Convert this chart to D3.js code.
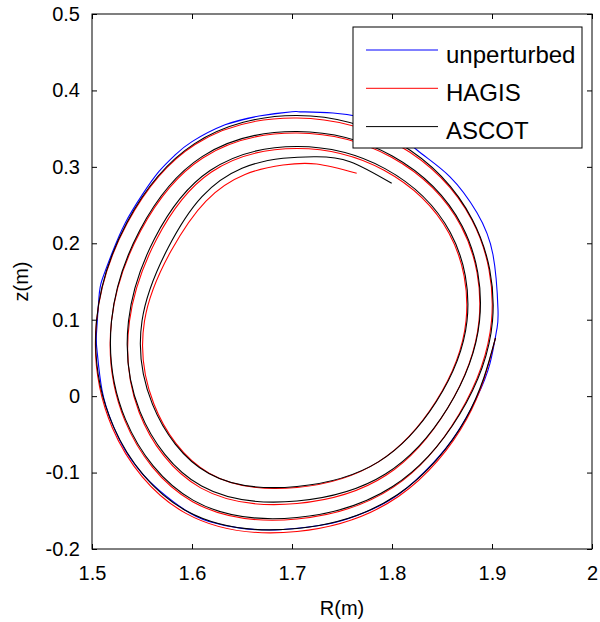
<!DOCTYPE html>
<html>
<head>
<meta charset="utf-8">
<script src="https://cdn.jsdelivr.net/npm/d3@7"></script>
<style>
  body { margin: 0; background: #fff; }
  text { font-family: "Liberation Sans", Arial, Helvetica, sans-serif; fill: #000; }
</style>
</head>
<body>
<svg id="chart" width="600" height="622"></svg>
<script>
// tick values
const xTicks = [1.5, 1.6, 1.7, 1.8, 1.9, 2]
const yTicks = [-0.2, -0.1, 0, 0.1, 0.2, 0.3, 0.4, 0.5]

// legend
const seriesNames = ['unperturbed', 'HAGIS', 'ASCOT']
const seriesColors = ['#0000ff', '#ff0000', '#000000']

// unperturbed orbit, closed, [R (m), z (m)], read clockwise from the top
const unperturbed = [
  [1.708, 0.372], [1.741, 0.3705], [1.788, 0.357], [1.825, 0.322], [1.858, 0.287],
  [1.885, 0.240], [1.901, 0.185], [1.906, 0.113], [1.9047, 0.0866], [1.898, 0.043],
  [1.885, -0.001], [1.865, -0.048], [1.841, -0.0875], [1.808, -0.127], [1.775, -0.151],
  [1.741, -0.166], [1.708, -0.1725], [1.683, -0.175], [1.650, -0.173], [1.617, -0.164],
  [1.593, -0.149], [1.567, -0.123], [1.550, -0.101], [1.533, -0.0705], [1.520, -0.035],
  [1.510, 0.008], [1.505, 0.060], [1.5045, 0.0826], [1.507, 0.130], [1.510, 0.152],
  [1.520, 0.187], [1.533, 0.226], [1.550, 0.263], [1.567, 0.294], [1.583, 0.3155],
  [1.600, 0.333], [1.633, 0.355], [1.667, 0.3665], [1.700, 0.3722]
]

// HAGIS orbit, spiralling inward (clockwise)
const hagis = [
  [1.9035, 0.0761], [1.8747, -0.0299], [1.8064, -0.1313], [1.705, -0.1771], [1.5939, -0.1534],
  [1.5203, -0.0413], [1.5045, 0.0983], [1.5353, 0.2265], [1.6031, 0.3293], [1.705, 0.3639],
  [1.8065, 0.3283], [1.8799, 0.2305],
  [1.8995, 0.0983], [1.8669, -0.0240], [1.8011, -0.1194], [1.705, -0.1607], [1.6006, -0.1381],
  [1.5328, -0.0317], [1.5195, 0.0983], [1.5487, 0.2165], [1.6108, 0.3117], [1.705, 0.3443],
  [1.7995, 0.3125], [1.8691, 0.2224],
  [1.887, 0.0983], [1.8557, -0.0155], [1.7941, -0.1036], [1.705, -0.1405], [1.6086, -0.1200],
  [1.5471, -0.0210], [1.5375, 0.0983], [1.5643, 0.2047], [1.6191, 0.2930], [1.705, 0.3240],
  [1.792, 0.2955], [1.857, 0.2132],
  [1.874, 0.0983], [1.844, -0.0067], [1.7864, -0.0860], [1.705, -0.1195], [1.6171, -0.1008],
  [1.5618, -0.0099], [1.5525, 0.0983], [1.579, 0.1899], [1.614, 0.2553], [1.653, 0.2900],
  [1.691, 0.3024], [1.7247, 0.3037], [1.7647, 0.2916]
]

// ASCOT orbit, spiralling inward (clockwise)
const ascot = [
  [1.9035, 0.0761], [1.8739, -0.0292], [1.8054, -0.1291], [1.705, -0.1732], [1.5951, -0.1507],
  [1.5216, -0.0402], [1.5045, 0.0983], [1.5348, 0.2269], [1.6026, 0.3304], [1.705, 0.3672],
  [1.8075, 0.3306], [1.8804, 0.2309],
  [1.9005, 0.0983], [1.8674, -0.0244], [1.8006, -0.1183], [1.705, -0.1588], [1.6014, -0.1364],
  [1.5337, -0.0311], [1.5195, 0.0983], [1.5478, 0.2171], [1.6101, 0.3134], [1.705, 0.3463],
  [1.8003, 0.3142], [1.870, 0.2230],
  [1.8875, 0.0983], [1.8557, -0.0155], [1.7934, -0.1019], [1.705, -0.1372], [1.6096, -0.1177],
  [1.548, -0.0203], [1.5365, 0.0983], [1.5625, 0.2060], [1.6181, 0.2952], [1.705, 0.3266],
  [1.793, 0.2977], [1.8583, 0.2141],
  [1.875, 0.0983], [1.8444, -0.0070], [1.7864, -0.0860], [1.705, -0.1182], [1.6169, -0.1013],
  [1.5605, -0.0108], [1.550, 0.0983], [1.576, 0.1938], [1.610, 0.2610], [1.650, 0.2981],
  [1.691, 0.3112], [1.7247, 0.3133], [1.758, 0.3068], [1.7997, 0.2785]
]

const plot = {left: 92, right: 592, top: 14, bottom: 549}

const svg = d3.select('#chart')
svg.append('rect').attr('width', 600).attr('height', 622).attr('fill', '#fff')

const x = d3.scaleLinear().domain([1.5, 2]).range([plot.left, plot.right])
const y = d3.scaleLinear().domain([-0.2, 0.5]).range([plot.bottom, plot.top])

// orbits
const line = d3.line().x(d => x(d[0])).y(d => y(d[1])).curve(d3.curveNatural)

// the closed orbit is drawn with a small overlap so the spline joins smoothly
const n = unperturbed.length
const wrapped = unperturbed.slice(n - 3).concat(unperturbed, unperturbed.slice(0, 4))

const g = svg.append('g')
g.append('path').attr('d', line(wrapped))
  .attr('fill', 'none').attr('stroke', seriesColors[0]).attr('stroke-width', 1.1)
g.append('path').attr('d', line(hagis))
  .attr('fill', 'none').attr('stroke', seriesColors[1]).attr('stroke-width', 1.1)
g.append('path').attr('d', line(ascot))
  .attr('fill', 'none').attr('stroke', seriesColors[2]).attr('stroke-width', 1.1)

// axes, ticks pointing inwards on all four sides
const fmt = d => String(d)
svg.append('g').attr('transform', `translate(0,${plot.bottom})`)
  .call(d3.axisBottom(x).tickValues(xTicks).tickFormat(fmt).tickSizeInner(-5).tickSizeOuter(0).tickPadding(17))
svg.append('g').attr('transform', `translate(0,${plot.top})`)
  .call(d3.axisTop(x).tickValues(xTicks).tickFormat('').tickSizeInner(-5).tickSizeOuter(0))
svg.append('g').attr('transform', `translate(${plot.left},0)`)
  .call(d3.axisLeft(y).tickValues(yTicks).tickFormat(fmt).tickSizeInner(-5).tickSizeOuter(0).tickPadding(12))
svg.append('g').attr('transform', `translate(${plot.right},0)`)
  .call(d3.axisRight(y).tickValues(yTicks).tickFormat('').tickSizeInner(-5).tickSizeOuter(0))

svg.selectAll('.domain').remove()
svg.selectAll('.tick line').attr('stroke', '#000')
svg.selectAll('.tick text').attr('font-size', 20).attr('font-family', '"Liberation Sans", Arial, sans-serif')

svg.append('rect')
  .attr('x', plot.left).attr('y', plot.top)
  .attr('width', plot.right - plot.left).attr('height', plot.bottom - plot.top)
  .attr('fill', 'none').attr('stroke', '#000').attr('stroke-width', 1)

// axis labels
svg.append('text').attr('x', (plot.left + plot.right) / 2).attr('y', 615)
  .attr('text-anchor', 'middle').attr('font-size', 20).text('R(m)')
svg.append('text').attr('transform', `translate(28,${(plot.top + plot.bottom) / 2}) rotate(-90)`)
  .attr('text-anchor', 'middle').attr('font-size', 20).text('z(m)')

// legend
const legend = svg.append('g').attr('transform', 'translate(353,27)')
legend.append('rect').attr('width', 229).attr('height', 121)
  .attr('fill', '#fff').attr('stroke', '#000').attr('stroke-width', 1)
const item = legend.selectAll('.item').data(seriesNames).join('g')
  .attr('class', 'item')
  .attr('transform', (d, i) => `translate(0,${23 + i * 38.3})`)
item.append('line').attr('x1', 13).attr('x2', 85)
  .attr('stroke', (d, i) => seriesColors[i]).attr('stroke-width', 1)
item.append('text').attr('x', 93).attr('y', 12.5)
  .attr('font-size', 24).text(d => d)
</script>
</body>
</html>
